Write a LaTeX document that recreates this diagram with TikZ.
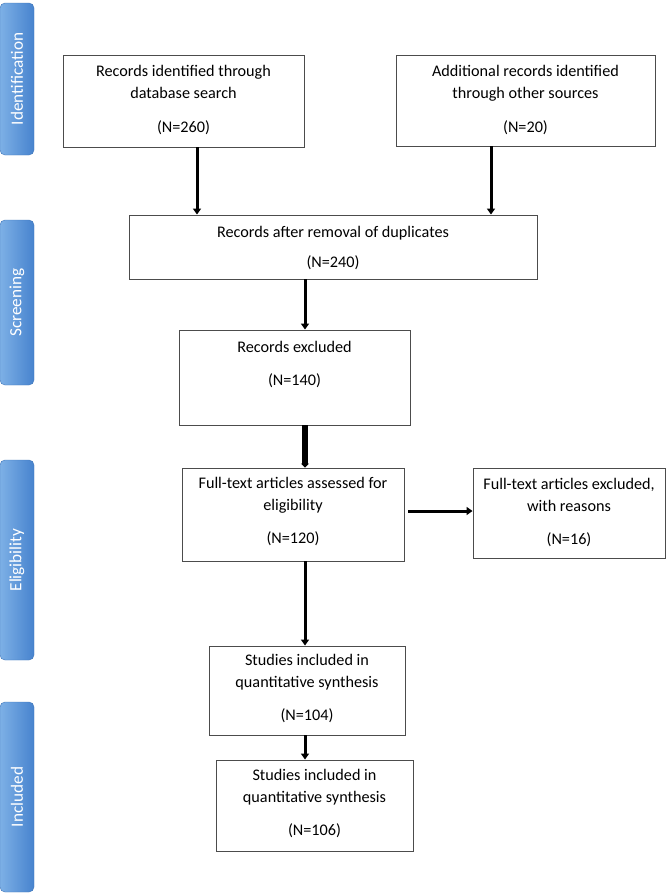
\documentclass[tikz,border=0pt]{standalone}
\usepackage{fontspec}
\setmainfont{Carlito}
\usetikzlibrary{arrows.meta}
\definecolor{barL}{HTML}{7DB0E6}
\definecolor{barR}{HTML}{4783CE}
\begin{document}
\begin{tikzpicture}[x=1pt,y=-1pt,
  box/.style={draw=black!70, line width=0.9pt, fill=white, inner sep=0pt},
  txt/.style={anchor=north, align=center, inner sep=0pt, font=\fontsize{16.2}{22}\selectfont},
  bar/.style={rounded corners=5pt, draw=barR!90!black, line width=0.4pt, left color=barL, right color=barR},
  bartxt/.style={rotate=90, text=white, font=\fontsize{17.2}{18}\selectfont, inner sep=0pt},
  arr/.style={line width=3pt, -{Triangle[width=8pt,length=6pt]}},
  fatarr/.style={line width=6.5pt, -{Triangle[width=8pt,length=4pt]}}
]
\useasboundingbox (0,0) rectangle (671,894);
% side bars
\node[bar, minimum width=34pt, minimum height=152pt] (s1) at (17,79) {};
\node[bartxt] (t1) at (s1.center) {Identification};
\node[bar, minimum width=34pt, minimum height=165pt] (s2) at (17,302.5) {};
\node[bartxt] (t2) at (s2.center) {Screening};
\node[bar, minimum width=34pt, minimum height=200pt] (s3) at (17,560) {};
\node[bartxt] (t3) at (s3.center) {Eligibility};
\node[bar, minimum width=34pt, minimum height=190pt] (s4) at (17,797) {};
\node[bartxt] (t4) at (s4.center) {Included};
% boxes
\node[box, minimum width=241pt, minimum height=92pt] (b1) at (183.5,101) {};
\node[txt] (l1) at ([yshift=-11pt]b1.north) {Records identified through\\database search\\[11pt](N=260)};
\node[box, minimum width=259pt, minimum height=91pt] (b2) at (525.5,100.5) {};
\node[txt] (l2) at ([yshift=-11pt]b2.north) {Additional records identified\\through other sources\\[11pt](N=20)};
\node[box, minimum width=408pt, minimum height=64pt] (b3) at (333,247) {};
\node[txt] (l3) at ([yshift=-11pt]b3.north) {Records after removal of duplicates\\[8pt](N=240)};
\node[box, minimum width=231pt, minimum height=95pt] (b4) at (294.5,377.5) {};
\node[txt] (l4) at ([yshift=-11pt]b4.north) {Records excluded\\[11pt](N=140)};
\node[box, minimum width=222pt, minimum height=93pt] (b5) at (293,514.5) {};
\node[txt] (l5) at ([yshift=-9pt]b5.north) {Full-text articles assessed for\\eligibility\\[11pt](N=120)};
\node[box, minimum width=192pt, minimum height=90pt] (b6) at (569,513) {};
\node[txt] (l6) at ([yshift=-10pt]b6.north) {Full-text articles excluded,\\with reasons\\[11pt](N=16)};
\node[box, minimum width=196pt, minimum height=89pt] (b7) at (307,690.5) {};
\node[txt] (l7) at ([yshift=-8pt]b7.north) {Studies included in\\quantitative synthesis\\[11pt](N=104)};
\node[box, minimum width=197pt, minimum height=91pt] (b8) at (314.5,805.5) {};
\node[txt] (l8) at ([yshift=-9pt]b8.north) {Studies included in\\quantitative synthesis\\[11pt](N=106)};
% connectors
\coordinate (c1) at (197,0);
\coordinate (c2) at (491,0);
\coordinate (col) at (305,0);
\coordinate (hy) at (0,511);
\draw[arr] (b1.south -| c1) -- (b3.north -| c1);
\draw[arr] (b2.south -| c2) -- (b3.north -| c2);
\draw[arr] (b3.south -| col) -- (b4.north -| col);
\draw[fatarr] (b4.south -| col) -- (b5.north -| col);
\draw[arr] ([xshift=4pt]b5.east |- hy) -- (b6.west |- hy);
\draw[arr] (b5.south -| col) -- (b7.north -| col);
\draw[arr] (b7.south -| col) -- (b8.north -| col);
\end{tikzpicture}
\end{document}
